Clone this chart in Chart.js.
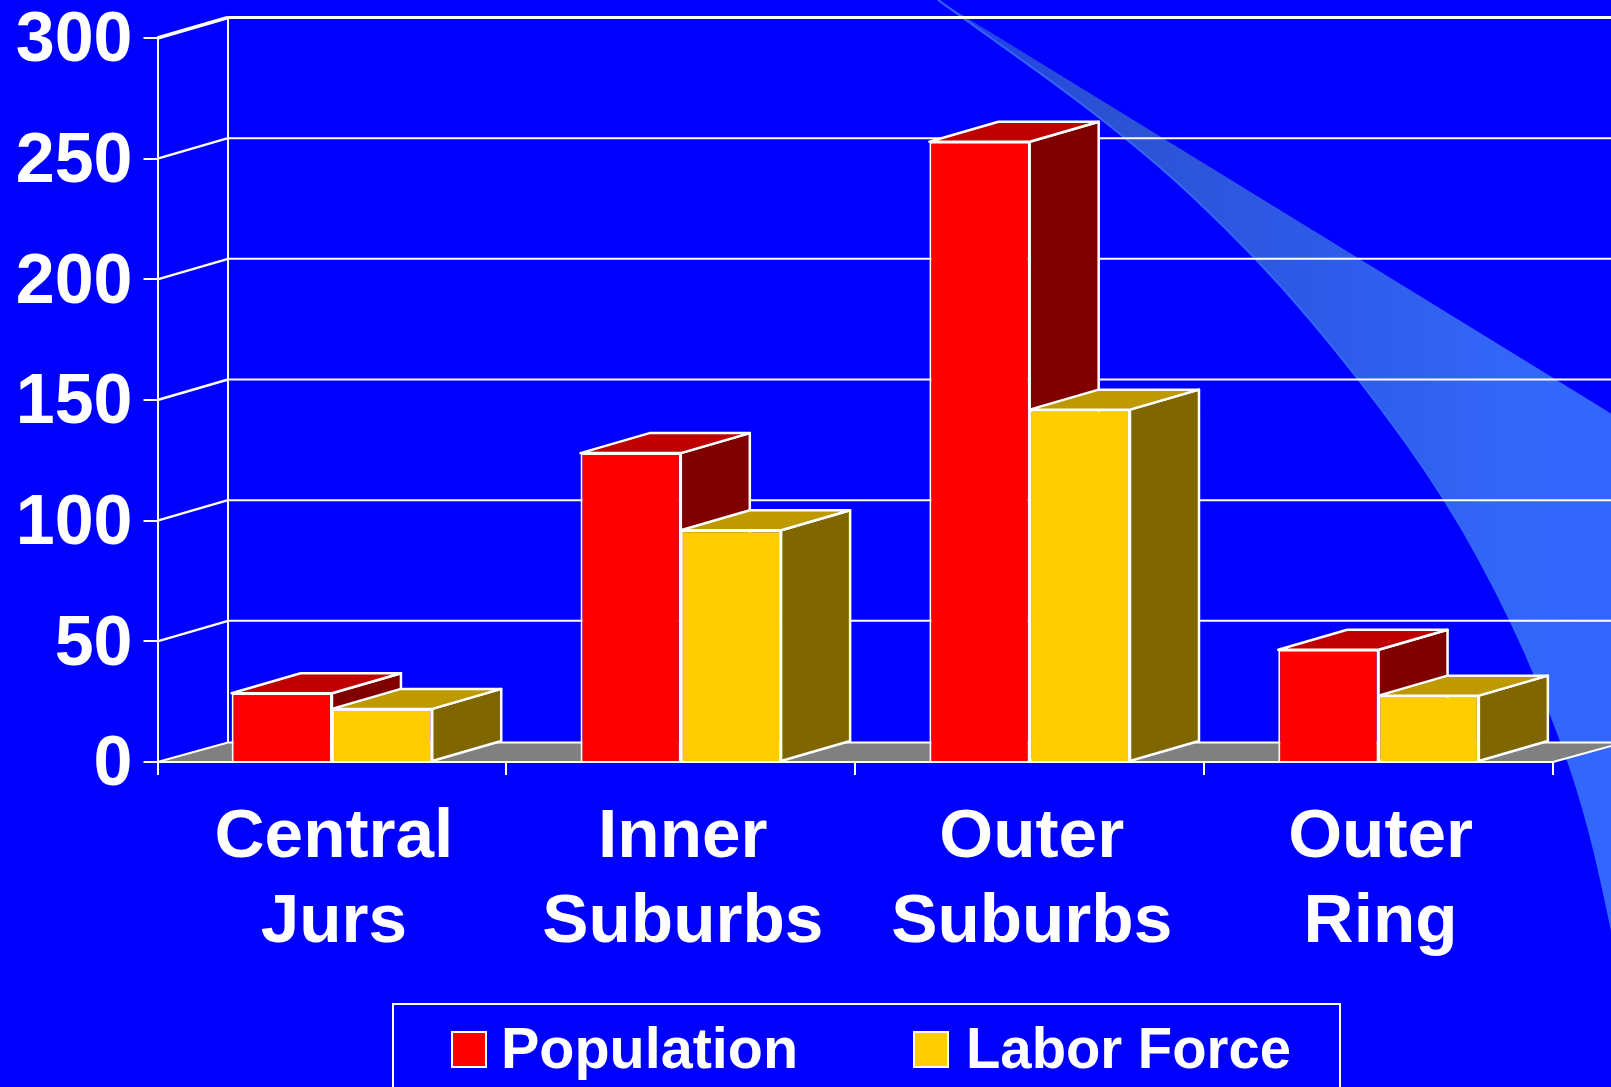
<!DOCTYPE html>
<html>
<head>
<meta charset="utf-8">
<title>Population and Labor Force</title>
<script src="https://cdn.jsdelivr.net/npm/chart.js@4"></script>
<style>
    html, body { margin: 0; padding: 0; background: #0000ff; overflow: hidden; }
    canvas { display: block; }
</style>
</head>
<body>
<canvas id="chBar" width="1611" height="1087"></canvas>
<script>
let categories = [['Central', 'Jurs'], ['Inner', 'Suburbs'], ['Outer', 'Suburbs'], ['Outer', 'Ring']];
let population = [28.5, 128, 257, 46.5];
let laborForce = [22, 96, 146, 27.5];
let yTicks = [0, 50, 100, 150, 200, 250, 300];

let fontName = '"Liberation Sans", Arial, sans-serif';
let white = '#ffffff';

// depth of the fake 3D box, in pixels
let wallDepth = { x: 70.5, y: 20.5 };
let floorRise = 19.5;
let barDepth = { x: 69, y: 20 };

// side faces are the front colour darkened
let faceColors = [
    { front: '#ff0000', top: '#bf0000', side: '#800000' },
    { front: '#ffcc00', top: '#bf9900', side: '#806600' }
];

// the swoosh behind the chart
let swooshUpper = [[938, 0], [1161, 137], [1358, 258], [1555, 379], [1620, 419]];
let swooshLower = [[1620, 970], [1611, 925], [1590, 830], [1563, 743], [1513, 622], [1447, 500], [1360, 379], [1258, 258], [1129, 137], [938, 0]];

function smoothThrough(ctx, pts) {
    for (let i = 1; i < pts.length - 1; i++) {
        let mx = (pts[i][0] + pts[i + 1][0]) / 2;
        let my = (pts[i][1] + pts[i + 1][1]) / 2;
        ctx.quadraticCurveTo(pts[i][0], pts[i][1], mx, my);
    }
    ctx.lineTo(pts[pts.length - 1][0], pts[pts.length - 1][1]);
}

function poly(ctx, pts, fill, stroke, width) {
    ctx.beginPath();
    ctx.moveTo(pts[0][0], pts[0][1]);
    for (let i = 1; i < pts.length; i++) {
        ctx.lineTo(pts[i][0], pts[i][1]);
    }
    ctx.closePath();
    if (fill) {
        ctx.fillStyle = fill;
        ctx.fill();
    }
    if (stroke) {
        ctx.strokeStyle = stroke;
        ctx.lineWidth = width;
        ctx.lineJoin = 'round';
        ctx.stroke();
    }
}

function line(ctx, x1, y1, x2, y2, width) {
    ctx.beginPath();
    ctx.moveTo(x1, y1);
    ctx.lineTo(x2, y2);
    ctx.strokeStyle = white;
    ctx.lineWidth = width;
    ctx.stroke();
}

let backgroundPlugin = {
    id: 'slideBackground',
    beforeDraw(chart) {
        let ctx = chart.ctx;
        ctx.save();
        ctx.fillStyle = '#0000ff';
        ctx.fillRect(0, 0, chart.width, chart.height);

        let grad = ctx.createLinearGradient(938, 0, 1611, 0);
        grad.addColorStop(0, 'rgb(30, 60, 235)');
        grad.addColorStop(0.25, 'rgb(44, 82, 210)');
        grad.addColorStop(0.55, 'rgb(46, 90, 232)');
        grad.addColorStop(0.85, 'rgb(51, 102, 248)');
        grad.addColorStop(1, 'rgb(51, 102, 255)');

        ctx.beginPath();
        ctx.moveTo(swooshUpper[0][0], swooshUpper[0][1]);
        smoothThrough(ctx, swooshUpper);
        ctx.lineTo(swooshLower[0][0], swooshLower[0][1]);
        smoothThrough(ctx, swooshLower);
        ctx.closePath();
        ctx.fillStyle = grad;
        ctx.fill();

        // lighter rim along the lower edge
        ctx.beginPath();
        ctx.moveTo(swooshLower[0][0], swooshLower[0][1]);
        smoothThrough(ctx, swooshLower);
        ctx.strokeStyle = '#3366ff';
        ctx.lineWidth = 2;
        ctx.stroke();
        ctx.restore();
    }
};

let boxPlugin = {
    id: 'box3d',
    beforeDraw(chart) {
        // nudge the tick labels once: y because canvas "middle" sits high for digits
        let yScale = chart.scales.y;
        let xScale = chart.scales.x;
        if (!yScale.$nudged) {
            yScale.getLabelItems(chart.chartArea).forEach(function (item) {
                item.options.translation[1] += 4;
            });
            xScale.getLabelItems(chart.chartArea).forEach(function (item) {
                item.options.translation[0] += 2;
            });
            yScale.$nudged = true;
        }
    },
    beforeDatasetsDraw(chart) {
        let ctx = chart.ctx;
        let yScale = chart.scales.y;
        let area = chart.chartArea;
        let left = area.left, right = area.right;
        let zero = yScale.getPixelForValue(0);
        let top = yScale.getPixelForValue(yTicks[yTicks.length - 1]);
        ctx.save();

        // back wall
        line(ctx, left + wallDepth.x, top - wallDepth.y, left + wallDepth.x, zero - floorRise, 2);
        yTicks.forEach(function (v) {
            let y = yScale.getPixelForValue(v);
            let w = v == yTicks[yTicks.length - 1] ? 3 : 2;
            if (v > 0) {
                line(ctx, left, y, left + wallDepth.x, y - wallDepth.y, w + 0.4);
                line(ctx, left + wallDepth.x, y - wallDepth.y, chart.width + 5, y - wallDepth.y, w);
            }
        });

        // floor
        poly(ctx, [
            [left, zero],
            [right, zero],
            [right + wallDepth.x, zero - floorRise],
            [left + wallDepth.x, zero - floorRise]
        ], '#808080', white, 2);

        // top and side of every bar, the library draws the fronts after this
        for (let i = 0; i < categories.length; i++) {
            chart.data.datasets.forEach(function (ds, d) {
                let bar = chart.getDatasetMeta(d).data[i];
                let x0 = bar.x - bar.width / 2;
                let x1 = bar.x + bar.width / 2;
                let dx = barDepth.x, dy = barDepth.y;
                poly(ctx, [[x1, bar.y], [x1 + dx, bar.y - dy], [x1 + dx, bar.base - dy], [x1, bar.base]], faceColors[d].side, white, 2.5);
                poly(ctx, [[x0, bar.y], [x1, bar.y], [x1 + dx, bar.y - dy], [x0 + dx, bar.y - dy]], faceColors[d].top, white, 2.5);
            });
        }
        ctx.restore();
    },
    afterDraw(chart) {
        // legend box runs off the bottom of the slide
        let ctx = chart.ctx;
        let entries = [
            { swatch: 452, text: 501, width: 299 },
            { swatch: 914, text: 966, width: 325 }
        ];
        ctx.save();
        ctx.strokeStyle = white;
        ctx.lineWidth = 2;
        ctx.strokeRect(393, 1004, 947, 120);
        ctx.font = 'bold 57.5px ' + fontName;
        ctx.textBaseline = 'alphabetic';
        entries.forEach(function (e, d) {
            ctx.fillStyle = faceColors[d].front;
            ctx.fillRect(e.swatch, 1032, 34, 35);
            ctx.strokeRect(e.swatch, 1032, 34, 35);
            ctx.fillStyle = white;
            ctx.fillText(chart.data.datasets[d].label, e.text, 1068, e.width);
        });
        ctx.restore();
    }
};

new Chart(document.getElementById('chBar'), {
    type: 'bar',
    data: {
        labels: categories,
        datasets: [
            { label: 'Population', data: population, backgroundColor: faceColors[0].front, borderColor: white, borderWidth: 2 },
            { label: 'Labor Force', data: laborForce, backgroundColor: faceColors[1].front, borderColor: white, borderWidth: 2 }
        ]
    },
    options: {
        responsive: false,
        animation: false,
        layout: { padding: { top: 38, right: 58, left: 0, bottom: 0 } },
        plugins: {
            legend: { display: false },
            tooltip: { enabled: false }
        },
        datasets: { bar: { categoryPercentage: 0.575, barPercentage: 1 } },
        scales: {
            x: {
                offset: true,
                grid: { offset: true, drawOnChartArea: false, color: white, lineWidth: 2, tickLength: 13 },
                border: { color: white, width: 2 },
                ticks: {
                    color: white,
                    padding: 20,
                    maxRotation: 0,
                    autoSkip: false,
                    font: { family: fontName, weight: 'bold', size: 69.3, lineHeight: 1.232 }
                },
                afterFit(scale) { scale.height = 325; }
            },
            y: {
                min: 0,
                max: 300,
                grid: { drawOnChartArea: false, color: white, lineWidth: 2, tickLength: 14 },
                border: { color: white, width: 2 },
                ticks: {
                    color: white,
                    stepSize: 50,
                    padding: 11,
                    font: { family: fontName, weight: 'bold', size: 70 }
                },
                afterFit(scale) {
                    scale.width = 157.5;
                    scale.paddingTop = 0;
                    scale.paddingBottom = 0;
                }
            }
        }
    },
    plugins: [backgroundPlugin, boxPlugin]
});
</script>
</body>
</html>
